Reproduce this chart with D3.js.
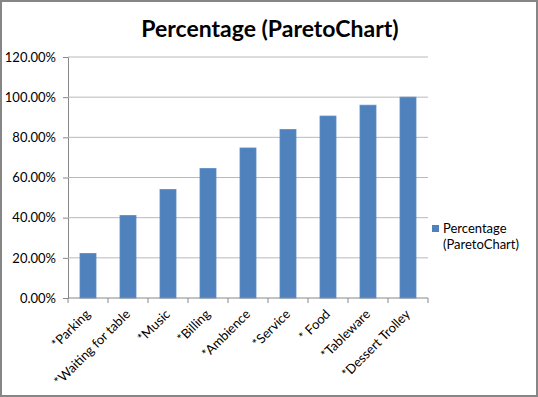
<!DOCTYPE html>
<html>
<head>
<meta charset="utf-8">
<script src="https://cdn.jsdelivr.net/npm/d3@7"></script>
<style>
  body { margin: 0; background: #fff; }
  svg { display: block; font-family: Lato, "Open Sans", sans-serif; }
</style>
</head>
<body>
<svg width="538" height="397"></svg>
<script>
// Data
var categories = ["*Parking", "*Waiting for table", "*Music", "*Billing", "*Ambience",
  "*Service", "* Food", "*Tableware", "*Dessert Trolley"];
var percentages = [22.2, 41.1, 54.0, 64.5, 74.7, 83.9, 90.6, 96.0, 100.0];
var yTicks = [0, 20, 40, 60, 80, 100, 120];
var seriesName = ["Percentage", "(ParetoChart)"];
var title = "Percentage (ParetoChart)";

var svg = d3.select("svg"),
  width = +svg.attr("width"),
  height = +svg.attr("height");

// outer frame
svg.append("rect")
  .attr("x", 1).attr("y", 1)
  .attr("width", width - 2).attr("height", height - 2)
  .attr("fill", "#fff")
  .attr("stroke", "#868686")
  .attr("stroke-width", 2);

var margin = {left: 68, right: 110, top: 57, bottom: 99};

var x = d3.scaleBand()
  .domain(categories)
  .range([margin.left, width - margin.right])
  .paddingInner(0.6)
  .paddingOuter(0.3);

var y = d3.scaleLinear()
  .domain([0, 120])
  .range([height - margin.bottom, margin.top]);

// gridlines + y axis
var yAxis = svg.append("g")
  .attr("transform", "translate(" + margin.left + ",0)")
  .call(d3.axisLeft(y)
    .tickValues(yTicks)
    .tickSize(5)
    .tickPadding(7)
    .tickFormat(function(d) { return d.toFixed(2) + "%"; }));
yAxis.select(".domain").attr("stroke", "#888");
yAxis.selectAll(".tick line").attr("stroke", "#888");
yAxis.selectAll(".tick text")
  .attr("font-size", 13)
  .attr("fill", "#000")
  .attr("font-family", "Lato, sans-serif");

svg.append("g")
  .selectAll("line")
  .data(yTicks.filter(function(d) { return d > 0; }))
  .enter()
  .append("line")
    .attr("x1", margin.left)
    .attr("x2", width - margin.right)
    .attr("y1", function(d) { return y(d); })
    .attr("y2", function(d) { return y(d); })
    .attr("stroke", "#b9b9b9")
    .attr("stroke-width", 1);

// bars
svg.append("g")
  .selectAll("rect")
  .data(percentages)
  .enter()
  .append("rect")
    .attr("x", function(d, i) { return x(categories[i]); })
    .attr("width", x.bandwidth())
    .attr("y", function(d) { return y(d); })
    .attr("height", function(d) { return y(0) - y(d); })
    .attr("fill", "#4f81bd")
    .attr("stroke", "#5b8cc8")
    .attr("stroke-width", 0.8);

// x axis with ticks at category boundaries
var step = x.step();
var xAxisG = svg.append("g")
  .attr("transform", "translate(0," + y(0) + ")");
xAxisG.append("line")
  .attr("x1", margin.left).attr("x2", width - margin.right)
  .attr("stroke", "#888");
xAxisG.selectAll(".bound")
  .data(d3.range(categories.length + 1))
  .enter()
  .append("line")
    .attr("x1", function(i) { return margin.left + i * step; })
    .attr("x2", function(i) { return margin.left + i * step; })
    .attr("y1", 0).attr("y2", 5)
    .attr("stroke", "#888");
xAxisG.selectAll("text")
  .data(categories)
  .enter()
  .append("text")
    .attr("transform", function(d) {
      return "translate(" + (x(d) + x.bandwidth() / 2 + 3) + ",17) rotate(-45)";
    })
    .attr("text-anchor", "end")
    .attr("font-size", 13)
    .attr("fill", "#000")
    .text(function(d) { return d; });

// title
svg.append("text")
  .attr("x", 270)
  .attr("y", 37)
  .attr("text-anchor", "middle")
  .attr("font-size", 23)
  .attr("font-weight", "bold")
  .attr("fill", "#000")
  .text(title);

// legend
var legend = svg.append("g");
legend.append("rect")
  .attr("x", 432).attr("y", 225)
  .attr("width", 7).attr("height", 7)
  .attr("fill", "#4f81bd");
legend.selectAll("text")
  .data(seriesName)
  .enter()
  .append("text")
    .attr("x", 443)
    .attr("y", function(d, i) { return 233 + i * 16; })
    .attr("font-size", 13)
    .attr("fill", "#000")
    .text(function(d) { return d; });
</script>
</body>
</html>
